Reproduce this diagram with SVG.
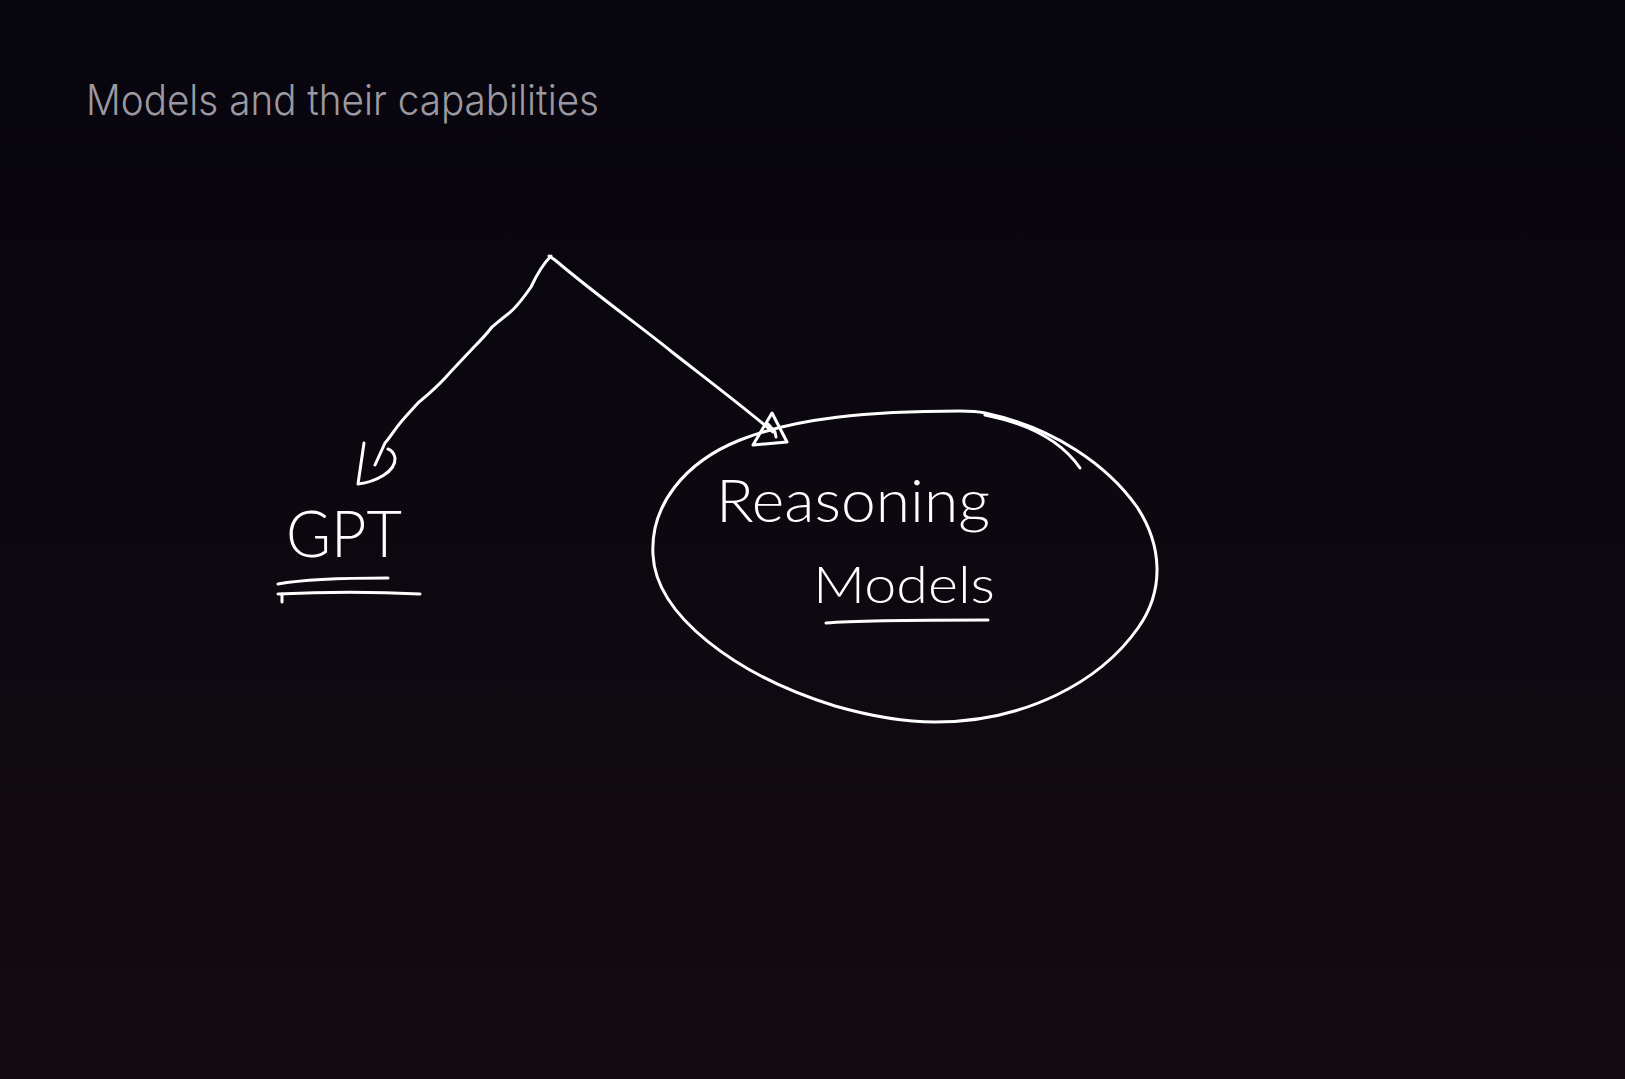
<svg xmlns="http://www.w3.org/2000/svg" width="1625" height="1079" viewBox="0 0 1625 1079">
  <defs>
    <linearGradient id="bg" x1="0" y1="0" x2="0" y2="1">
      <stop offset="0" stop-color="#07050e"/>
      <stop offset="0.5" stop-color="#0d0810"/>
      <stop offset="1" stop-color="#140b12"/>
    </linearGradient>
    <style>
      .ink { fill: none; stroke: #ffffff; stroke-width: 3; stroke-linecap: round; stroke-linejoin: round; }
      .hand { fill: #ffffff; font-family: Lato, "Open Sans", "Liberation Sans", sans-serif; font-weight: 300; }
      .title { fill: #9c989f; font-family: Inter, "Liberation Sans", sans-serif; font-weight: 300; }
    </style>
  </defs>
  <rect width="1625" height="1079" fill="url(#bg)"/>

  <text class="title" x="86" y="115" font-size="42" textLength="513" lengthAdjust="spacingAndGlyphs">Models and their capabilities</text>

  <g id="connectors">
    <path class="ink" d="M 551 256 C 545 262, 538 272, 531 287 C 522 300, 516 308, 508 314 C 500 320, 496 324, 492 327 C 485 336, 480 341, 474 347 C 460 362, 452 370, 446 377 C 434 390, 425 397, 418 403 C 408 414, 402 420, 397 427 C 392 434, 388 440, 385 443 L 375 465"/>
    <path class="ink" d="M 364 443 L 358 484 C 375 482, 396 472, 395 458 C 394 453, 391 450, 388 449"/>
    <path class="ink" d="M 549 256 L 555 260 C 595 294, 640 326, 672 352 C 700 374, 740 404, 773 432"/>
    <path class="ink" d="M 753 445 L 772 413 L 787 442 Z"/>
    <path class="ink" d="M 768 424 L 775 432 L 776 437"/>
  </g>

  <g id="node-gpt">
    <text class="hand" x="286" y="557" font-size="66" textLength="116" lengthAdjust="spacingAndGlyphs">GPT</text>
    <path class="ink" d="M 278 584 C 300 580, 340 578, 388 578"/>
    <path class="ink" d="M 278 594 C 320 592, 380 592, 420 594"/>
    <path class="ink" d="M 282 594 L 282 602"/>
  </g>

  <g id="node-reasoning">
    <path class="ink" d="M 960 411 C 870 411, 795 418, 740 440 C 685 462, 650 505, 653 555 C 656 615, 735 675, 835 706 C 870 716, 905 722, 935 722 C 1025 722, 1100 682, 1138 628 C 1165 590, 1162 545, 1137 507 C 1108 466, 1055 428, 985 413 C 976 411, 968 411, 960 411"/>
    <path class="ink" d="M 985 415 C 1030 424, 1062 442, 1080 468"/>
    <text class="hand" x="716" y="522" font-size="60" textLength="274" lengthAdjust="spacingAndGlyphs">Reasoning</text>
    <text class="hand" x="813" y="603" font-size="52" textLength="182" lengthAdjust="spacingAndGlyphs">Models</text>
    <path class="ink" d="M 826 623 C 860 620, 920 620, 988 620"/>
  </g>
</svg>
